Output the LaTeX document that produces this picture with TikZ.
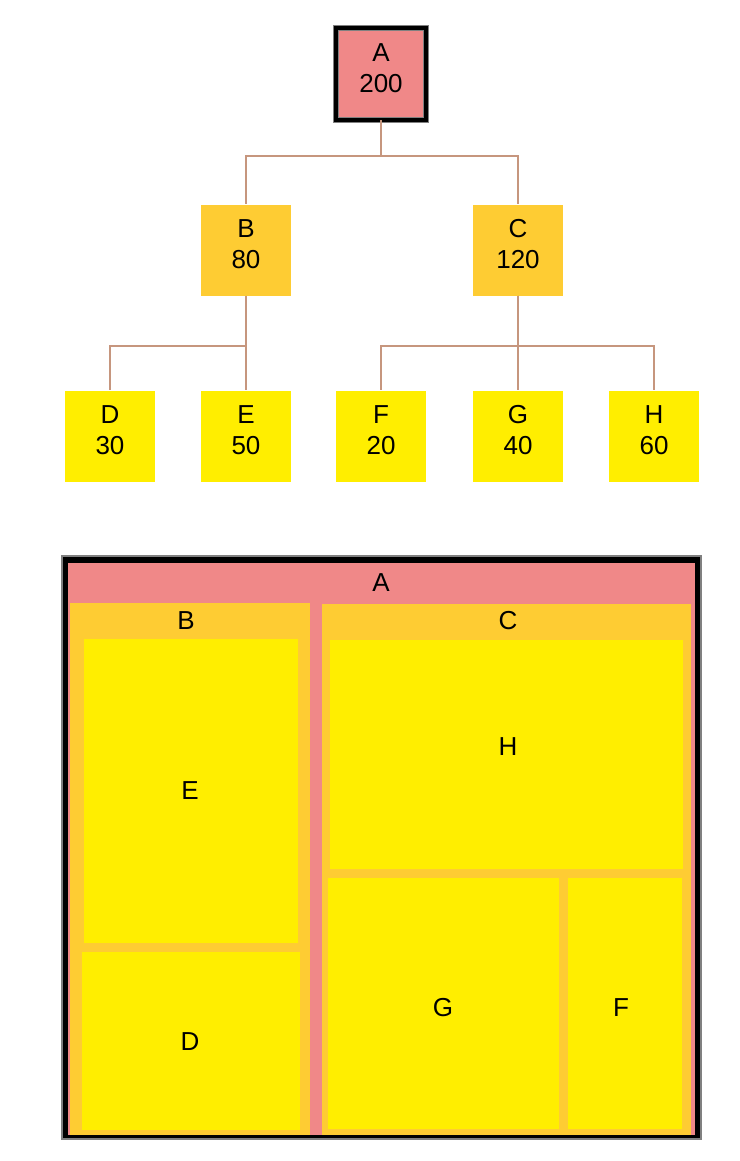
\documentclass[tikz,border=0pt]{standalone}
\usepackage{fontspec}
\setmainfont{Liberation Sans}
\usepackage{xcolor}
\usepackage{tikz}
\definecolor{rootpink}{RGB}{240,136,136}
\definecolor{midorange}{RGB}{254,204,51}
\definecolor{leafyellow}{RGB}{255,238,0}
\definecolor{linkbrown}{RGB}{198,150,126}
\tikzset{
    lbl/.style={font=\fontsize{26}{31}\selectfont, align=center, inner sep=0pt},
    treebox/.style={lbl, minimum width=90pt, minimum height=91pt, text depth=12pt},
    rootbox/.style={treebox, fill=rootpink, minimum height=92pt, draw=gray, double=black, double distance=4pt, line width=1pt},
    midbox/.style={treebox, fill=midorange},
    leafbox/.style={treebox, fill=leafyellow},
    link/.style={draw=linkbrown, line width=2pt},
}

\begin{document}
\begin{tikzpicture}[x=1pt, y=-1pt]
        \useasboundingbox (0,0) rectangle (739,1161);
        % tree
        \node[rootbox] (a) at (381,74) {A\\200};
        \node[midbox] (b) at (246,250) {B\\80};
        \node[midbox] (c) at (518,250) {C\\120};
        \node[leafbox] (d) at (110,436) {D\\30};
        \node[leafbox] (e) at (246,436) {E\\50};
        \node[leafbox] (f) at (381,436) {F\\20};
        \node[leafbox] (g) at (518,436) {G\\40};
        \node[leafbox] (h) at (654,436) {H\\60};
        \draw[link] (a.south) -- ++(0,36) -| (b.north);
        \draw[link] (a.south) -- ++(0,36) -| (c.north);
        \draw[link] (b.south) -- ++(0,50) -| (d.north);
        \draw[link] (b.south) -- (e.north);
        \draw[link] (c.south) -- ++(0,50) -| (f.north);
        \draw[link] (c.south) -- (g.north);
        \draw[link] (c.south) -- ++(0,50) -| (h.north);
        % treemap
        \filldraw[fill=black, draw=gray, line width=1.5pt] (62,556) rectangle (701,1139);
        \fill[rootpink] (68,563) rectangle (695,1135);
        \fill[midorange] (70,603) rectangle (310,1135);
        \fill[midorange] (322,604) rectangle (691,1135);
        \fill[leafyellow] (84,639) rectangle (298,943);
        \fill[leafyellow] (82,952) rectangle (300,1130);
        \fill[leafyellow] (330,640) rectangle (683,869);
        \fill[leafyellow] (328,878) rectangle (559,1129);
        \fill[leafyellow] (568,878) rectangle (682,1129);
        \node[lbl] (mapa) at (381,583) {A};
        \node[lbl] (mapb) at (186,621) {B};
        \node[lbl] (mapc) at (508,621) {C};
        \node[lbl] (mape) at (190,791) {E};
        \node[lbl] (mapd) at (190,1042) {D};
        \node[lbl] (maph) at (508,747) {H};
        \node[lbl] (mapg) at (443,1008) {G};
        \node[lbl] (mapf) at (621,1008) {F};
    \end{tikzpicture}
\end{document}
